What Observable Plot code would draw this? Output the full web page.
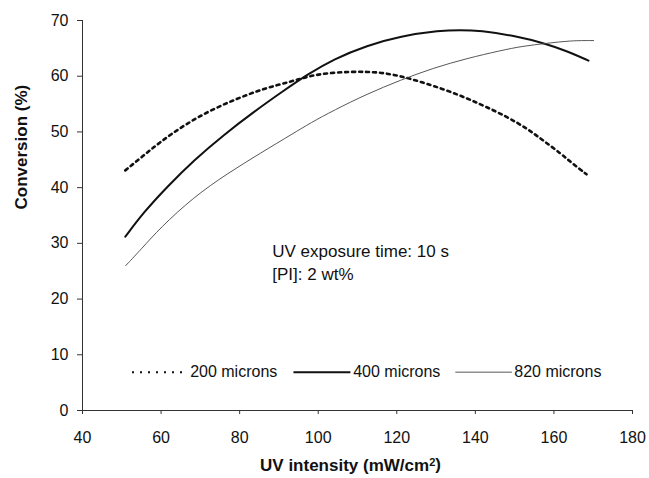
<!DOCTYPE html>
<html>
<head>
<meta charset="utf-8">
<script src="https://cdn.jsdelivr.net/npm/d3@7"></script>
<script src="https://cdn.jsdelivr.net/npm/@observablehq/plot@0.6"></script>
<style>
  html, body { margin: 0; padding: 0; background: #fff; }
  #chart svg { display: block; }
</style>
</head>
<body>
<div id="chart"></div>
<script>
// ---- data ----
const series = ["200 microns", "400 microns", "820 microns"];
const x200 = [50.9, 55.6, 59.8, 65.8, 72.6, 79.4, 86.2, 92.9, 98.0, 103.0, 108.2, 112.5, 116.7, 121.0, 125.2, 133.6, 141.3, 148.1, 153.2, 157.0, 161.8, 164.6, 168.3];
const y200 = [43.1, 45.8, 48.2, 51.2, 53.9, 56.0, 57.8, 59.0, 60.1, 60.6, 60.8, 60.8, 60.6, 60.0, 59.2, 57.3, 55.0, 52.7, 50.6, 48.6, 46.1, 44.4, 42.4];
const x400 = [50.9, 55.6, 61.6, 68.3, 76.0, 83.6, 91.2, 97.2, 104.0, 112.4, 120.9, 131.1, 136.0, 141.3, 149.7, 158.2, 163.3, 168.8];
const y400 = [31.2, 35.6, 40.2, 44.9, 49.5, 53.6, 57.4, 60.3, 63.1, 65.5, 67.2, 68.2, 68.3, 68.2, 67.3, 65.8, 64.5, 62.8];
const x820 = [51.0, 55.0, 59.8, 68.3, 76.8, 85.3, 93.8, 98.0, 104.0, 112.4, 120.9, 129.4, 137.9, 146.4, 152.0, 158.2, 164.2, 170.1];
const y820 = [26.0, 29.0, 32.8, 38.3, 42.5, 46.2, 49.8, 51.6, 53.9, 56.8, 59.3, 61.5, 63.2, 64.6, 65.4, 65.9, 66.4, 66.4];
const xTicks = [40, 60, 80, 100, 120, 140, 160, 180];
const yTicks = [0, 10, 20, 30, 40, 50, 60, 70];
const notes = ["UV exposure time: 10 s", "[PI]: 2 wt%"];
const xTitle = "UV intensity (mW/cm²)";
const yTitle = "Conversion (%)";

// ---- build tables ----
const rows = [];
x200.forEach((x, i) => rows.push({s: series[0], x, y: y200[i]}));
x400.forEach((x, i) => rows.push({s: series[1], x, y: y400[i]}));
x820.forEach((x, i) => rows.push({s: series[2], x, y: y820[i]}));

const styles = {
  "200 microns": {stroke: "#111", strokeWidth: 2.6, dash: "3,4", legendDash: "2,6", legendWidth: 2},
  "400 microns": {stroke: "#111", strokeWidth: 2, dash: null, legendDash: null, legendWidth: 2},
  "820 microns": {stroke: "#444", strokeWidth: 0.9, dash: null, legendDash: null, legendWidth: 0.9}
};

// legend layout (in the chart's data units)
const legendY = 6.88;
const legendX = [[52.6, 66.6, 67.4], [93.7, 108.2, 108.9], [134.9, 149.3, 149.9]];
const legendRows = series.map((s, i) => ({s, x1: legendX[i][0], x2: legendX[i][1], tx: legendX[i][2]}));
const noteX = 88.3;
const noteY = [28.5, 24.4];

const font = "Liberation Sans, Arial, sans-serif";

const marks = [
  Plot.ruleX([40], {stroke: "#333", strokeWidth: 1}),
  Plot.ruleY([0], {stroke: "#333", strokeWidth: 1}),
  Plot.axisY({ticks: yTicks, tickSize: 5, tickPadding: 9, fontSize: 16, label: null, stroke: "#333"}),
  Plot.axisX({ticks: xTicks, tickSize: 4, tickPadding: 17, fontSize: 16, label: null, stroke: "#333"}),
  Plot.text([xTitle], {frameAnchor: "bottom", dx: -7, dy: 60, fontSize: 17, fontWeight: "bold", fill: "#111"}),
  Plot.text([yTitle], {frameAnchor: "left", dx: -61, dy: -6, rotate: -90, fontSize: 17, fontWeight: "bold", fill: "#111"}),
];
for (const s of series) {
  const st = styles[s];
  marks.push(Plot.line(rows.filter(d => d.s === s), {
    x: "x", y: "y", curve: "basis", stroke: st.stroke, strokeWidth: st.strokeWidth,
    strokeDasharray: st.dash
  }));
  const lr = legendRows.filter(d => d.s === s);
  marks.push(Plot.link(lr, {x1: "x1", x2: "x2", y1: () => legendY, y2: () => legendY,
    stroke: st.stroke, strokeWidth: st.legendWidth, strokeDasharray: st.legendDash}));
  marks.push(Plot.text(lr, {x: "tx", y: () => legendY, text: "s", textAnchor: "start", fontSize: 16, fill: "#111"}));
}
marks.push(Plot.text(notes, {x: () => noteX, y: (d, i) => noteY[i], text: d => d, textAnchor: "start", fontSize: 17, fill: "#111"}));

const chart = Plot.plot({
  width: 649,
  height: 478,
  marginLeft: 82,
  marginRight: 17,
  marginTop: 20,
  marginBottom: 68,
  style: {fontFamily: font, fontSize: "16px", color: "#111", background: "#fff"},
  x: {domain: [40, 180]},
  y: {domain: [0, 70]},
  marks
});

// render the "2" of cm² as a real superscript
chart.querySelectorAll("text").forEach(t => {
  if (t.textContent === xTitle) {
    t.textContent = "";
    const ns = "http://www.w3.org/2000/svg";
    const a = document.createElementNS(ns, "tspan"); a.textContent = "UV intensity (mW/cm";
    const b = document.createElementNS(ns, "tspan"); b.textContent = "2"; b.setAttribute("dy", "-0.45em"); b.setAttribute("font-size", "0.65em");
    const c = document.createElementNS(ns, "tspan"); c.textContent = ")"; c.setAttribute("dy", "0.29em");
    t.append(a, b, c);
  }
});
document.getElementById("chart").appendChild(chart);
</script>
</body>
</html>
